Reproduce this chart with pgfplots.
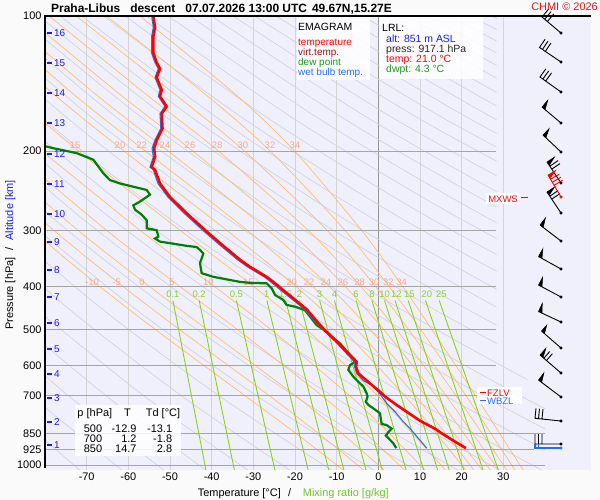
\documentclass[border=0pt]{standalone}
\usepackage{pgfplots}
\pgfplotsset{compat=1.18}
\usepackage{fontspec}
\setmainfont{Liberation Sans}
\definecolor{pagebg}{RGB}{250,250,250}
\definecolor{lav}{RGB}{240,240,252}
\definecolor{vgrid}{RGB}{212,212,212}
\definecolor{zgrid}{RGB}{150,150,150}
\definecolor{hgrid}{RGB}{165,165,165}
\definecolor{dryad}{RGB}{208,208,214}
\definecolor{moist}{RGB}{255,190,110}
\definecolor{moistlab}{RGB}{248,168,140}
\definecolor{mixr}{RGB}{140,210,20}
\definecolor{mixlab}{RGB}{140,205,50}
\definecolor{tred}{RGB}{255,0,0}
\definecolor{tdgreen}{RGB}{0,128,0}
\definecolor{wbblue}{RGB}{40,110,235}
\definecolor{altblue}{RGB}{30,30,230}
\definecolor{vtred}{RGB}{160,20,20}
\definecolor{legreen}{RGB}{30,150,30}
\definecolor{chmired}{RGB}{230,20,20}
\definecolor{xlgreen}{RGB}{110,200,40}
\pgfplotsset{
  dry/.style={dryad, line width=0.6bp, smooth},
  mst/.style={moist, line width=0.7bp, smooth},
  mix/.style={mixr, line width=0.9bp},
  hg/.style={hgrid, line width=1bp},
}
\tikzset{
  ml/.style={text=moistlab, font=\fontsize{9.5}{10}\selectfont, inner sep=0pt},
  xl/.style={text=mixlab, font=\fontsize{9.5}{10}\selectfont, inner sep=0pt},
}
\begin{document}
\begin{tikzpicture}
\useasboundingbox (0,0) rectangle (600bp,500bp);
\fill[pagebg] (0,0) rectangle (600bp,500bp);
\fill[lav] (45bp,30bp) rectangle (591bp,484bp);
\begin{axis}[
  at={(45bp,30bp)}, anchor=south west, scale only axis,
  width=500bp, height=454bp,
  xmin=-80, xmax=40, ymin=100, ymax=1026, ymode=log, y dir=reverse,
  axis line style={draw=none}, major tick length=0pt, minor tick length=0pt,
  xtick={-70,-60,-50,-40,-30,-20,-10,0,10,20,30},
  xticklabels={-70,-60,-50,-40,-30,-20,-10,0,10,20,30},
  ytick={100,200,300,400,500,600,700,850,925,1000},
  yticklabels={100,200,300,400,500,600,700,850,925,1000},
  xmajorgrids, major grid style={vgrid, line width=1bp},
  tick label style={font=\fontsize{11}{12}\selectfont},
  xticklabel style={yshift=1bp},
  no markers, clip mode=individual,
]
% vertical 0 line
\addplot[zgrid, line width=1bp] coordinates {(0,100)(0,1026)};
% dry adiabats
\addplot[dry] coordinates {(-71.68,1026)(-92.53,700)};
\addplot[dry] coordinates {(-61.60,1026)(-83.50,700)};
\addplot[dry] coordinates {(-51.53,1026)(-74.47,700)(-98.03,450)};
\addplot[dry] coordinates {(-41.46,1026)(-65.44,700)(-90.07,450)};
\addplot[dry] coordinates {(-31.38,1026)(-56.40,700)(-82.11,450)};
\addplot[dry] coordinates {(-21.31,1026)(-47.37,700)(-74.15,450)(-99.38,280)};
\addplot[dry] coordinates {(-11.24,1026)(-38.34,700)(-66.19,450)(-92.43,280)};
\addplot[dry] coordinates {(-1.16,1026)(-29.31,700)(-58.23,450)(-85.48,280)};
\addplot[dry] coordinates {(8.91,1026)(-20.28,700)(-50.27,450)(-78.53,280)(-104.38,170)};
\addplot[dry] coordinates {(18.98,1026)(-11.25,700)(-42.31,450)(-71.58,280)(-98.35,170)};
\addplot[dry] coordinates {(29.06,1026)(-2.22,700)(-34.35,450)(-64.62,280)(-92.32,170)};
\addplot[dry] coordinates {(39.13,1026)(6.81,700)(-26.39,450)(-57.67,280)(-86.30,170)};
\addplot[dry] coordinates {(49.21,1026)(15.85,700)(-18.43,450)(-50.72,280)(-80.27,170)(-107.41,100)};
\addplot[dry] coordinates {(59.28,1026)(24.88,700)(-10.47,450)(-43.77,280)(-74.24,170)(-102.23,100)};
\addplot[dry] coordinates {(69.35,1026)(33.91,700)(-2.51,450)(-36.82,280)(-68.21,170)(-97.05,100)};
\addplot[dry] coordinates {(79.43,1026)(42.94,700)(5.45,450)(-29.87,280)(-62.18,170)(-91.87,100)};
\addplot[dry] coordinates {(51.97,700)(13.41,450)(-22.92,280)(-56.15,170)(-86.69,100)};
\addplot[dry] coordinates {(61.00,700)(21.37,450)(-15.97,280)(-50.13,170)(-81.51,100)};
\addplot[dry] coordinates {(70.03,700)(29.33,450)(-9.02,280)(-44.10,170)(-76.33,100)};
\addplot[dry] coordinates {(79.06,700)(37.29,450)(-2.07,280)(-38.07,170)(-71.15,100)};
\addplot[dry] coordinates {(45.25,450)(4.89,280)(-32.04,170)(-65.97,100)};
\addplot[dry] coordinates {(53.21,450)(11.84,280)(-26.01,170)(-60.79,100)};
\addplot[dry] coordinates {(61.17,450)(18.79,280)(-19.99,170)(-55.61,100)};
\addplot[dry] coordinates {(69.13,450)(25.74,280)(-13.96,170)(-50.43,100)};
\addplot[dry] coordinates {(77.09,450)(32.69,280)(-7.93,170)(-45.25,100)};
\addplot[dry] coordinates {(85.05,450)(39.64,280)(-1.90,170)(-40.07,100)};
\addplot[dry] coordinates {(46.59,280)(4.12,170)(-34.89,100)};
\addplot[dry] coordinates {(53.54,280)(10.15,170)(-29.71,100)};
\addplot[dry] coordinates {(60.49,280)(16.18,170)(-24.53,100)};
\addplot[dry] coordinates {(67.44,280)(22.21,170)(-19.35,100)};
\addplot[dry] coordinates {(74.39,280)(28.23,170)(-14.17,100)};
\addplot[dry] coordinates {(81.35,280)(34.26,170)(-8.99,100)};
\addplot[dry] coordinates {(88.30,280)(40.29,170)(-3.81,100)};
\addplot[dry] coordinates {(46.31,170)(1.37,100)};
\addplot[dry] coordinates {(52.34,170)(6.55,100)};
\addplot[dry] coordinates {(58.37,170)(11.72,100)};
\addplot[dry] coordinates {(64.40,170)(16.90,100)};
\addplot[dry] coordinates {(70.42,170)(22.08,100)};
\addplot[dry] coordinates {(76.45,170)(27.26,100)};
\addplot[dry] coordinates {(82.48,170)(32.44,100)};
\addplot[dry] coordinates {(88.50,170)(37.62,100)};
% moist adiabats
\addplot[mst] coordinates {(34.77,1026)(29.1,850)(23.3,700)(12.9,500)(5.8,400)(-4.05,300)(-20.1,200)(-34.1,150)(-57.2,100)};
\addplot[mst] coordinates {(32.79,1026)(27.0,850)(21.0,700)(10.25,500)(2.55,400)(-8.05,300)(-25.9,200)(-41.3,150)(-65.24,100)};
\addplot[mst] coordinates {(30.81,1026)(24.9,850)(18.6,700)(7.3,500)(-0.7,400)(-12.3,300)(-32.1,200)(-48.6,150)(-72.5,100)};
\addplot[mst] coordinates {(28.85,1026)(22.6,850)(16.2,700)(4.4,500)(-4.25,400)(-16.85,300)(-38.35,200)(-55.5,150)(-79.0,100)};
\addplot[mst] coordinates {(26.87,1026)(20.5,850)(13.8,700)(1.35,500)(-8.0,400)(-21.6,300)(-44.5,200)(-61.8,150)(-84.8,100)};
\addplot[mst] coordinates {(24.92,1026)(18.2,850)(11.3,700)(-1.9,500)(-11.8,400)(-26.5,300)(-50.4,200)(-67.6,150)(-90.0,100)};
\addplot[mst] coordinates {(22.93,1026)(16.1,850)(8.8,700)(-5.1,500)(-15.8,400)(-31.5,300)(-55.9,200)(-72.9,150)(-94.7,100)};
\addplot[mst] coordinates {(20.96,1026)(13.9,850)(6.25,700)(-8.5,500)(-19.8,400)(-36.4,300)(-61.0,200)(-77.65,150)(-99.0,100)};
\addplot[mst] coordinates {(16.07,1026)(8.2,850)(-0.23,700)(-17.2,500)(-29.95,400)(-47.6,300)(-71.9,200)(-87.75,150)};
\addplot[mst] coordinates {(11.17,1026)(2.6,850)(-6.95,700)(-25.7,500)(-39.4,400)(-57.2,300)(-80.7,200)};
\addplot[mst] coordinates {(6.28,1026)(-3.1,850)(-13.6,700)(-33.75,500)(-47.7,400)(-65.25,300)(-87.9,200)};
\addplot[mst] coordinates {(1.39,1026)(-8.8,850)(-20.0,700)(-41.0,500)(-54.97,400)(-72.1,300)(-94.0,200)};
\addplot[mst] coordinates {(-3.51,1026)(-14.4,850)(-26.25,700)(-47.6,500)(-61.3,400)(-77.9,300)(-99.3,200)};
\addplot[mst] coordinates {(-8.45,1026)(-19.8,850)(-32.1,700)(-53.4,500)(-66.9,400)(-83.2,300)};
% mixing ratio lines
\addplot[mix] coordinates {(-49.3,430)(-41.37,1026)};
\addplot[mix] coordinates {(-43.0,430)(-34.54,1026)};
\addplot[mix] coordinates {(-34.06,430)(-24.82,1026)};
\addplot[mix] coordinates {(-26.75,430)(-16.84,1026)};
\addplot[mix] coordinates {(-22.24,430)(-11.89,1026)};
\addplot[mix] coordinates {(-18.93,430)(-8.27,1026)};
\addplot[mix] coordinates {(-14.09,430)(-2.95,1026)};
\addplot[mix] coordinates {(-10.54,430)(0.95,1026)};
\addplot[mix] coordinates {(-5.35,430)(6.67,1026)};
\addplot[mix] coordinates {(-1.54,430)(10.88,1026)};
\addplot[mix] coordinates {(1.49,430)(14.23,1026)};
\addplot[mix] coordinates {(4.01,430)(17.02,1026)};
\addplot[mix] coordinates {(7.16,430)(20.51,1026)};
\addplot[mix] coordinates {(11.32,430)(25.13,1026)};
\addplot[mix] coordinates {(14.61,430)(28.79,1026)};
% horizontal pressure lines
\addplot[hg] coordinates {(-80,200)(28.2,200)};
\addplot[hg] coordinates {(-80,300)(28.2,300)};
\addplot[hg] coordinates {(-80,400)(28.2,400)};
\addplot[hg] coordinates {(-80,500)(28.2,500)};
\addplot[hg] coordinates {(-80,600)(28.2,600)};
\addplot[hg] coordinates {(-80,700)(28.2,700)};
\addplot[hg] coordinates {(-80,850)(40,850)};
\addplot[hg] coordinates {(-80,925)(37.4,925)};
\addplot[hg] coordinates {(-80,1000)(40,1000)};
% moist adiabat labels
\node[ml] at (axis cs:-68.7,391) {-10};
\node[ml] at (axis cs:-62.8,391) {-5};
\node[ml] at (axis cs:-56.7,391) {0};
\node[ml] at (axis cs:-49.6,391) {5};
\node[ml] at (axis cs:-40.8,391) {10};
\node[ml] at (axis cs:-31.2,391) {15};
\node[ml] at (axis cs:-20.8,391) {20};
\node[ml] at (axis cs:-16.6,391) {22};
\node[ml] at (axis cs:-12.6,391) {24};
\node[ml] at (axis cs:-8.5,391) {26};
\node[ml] at (axis cs:-4.5,391) {28};
\node[ml] at (axis cs:-1.0,391) {30};
\node[ml] at (axis cs:2.4,391) {32};
\node[ml] at (axis cs:5.6,391) {34};
\node[ml] at (axis cs:-72.8,194) {15};
\node[ml] at (axis cs:-62.0,194) {20};
\node[ml] at (axis cs:-56.8,194) {22};
\node[ml] at (axis cs:-51.2,194) {24};
\node[ml] at (axis cs:-45.2,194) {26};
\node[ml] at (axis cs:-38.7,194) {28};
\node[ml] at (axis cs:-32.5,194) {30};
\node[ml] at (axis cs:-26.0,194) {32};
\node[ml] at (axis cs:-20.0,194) {34};
% mixing ratio labels
\node[xl] at (axis cs:-49.3,416) {0.1};
\node[xl] at (axis cs:-43.0,416) {0.2};
\node[xl] at (axis cs:-34.06,416) {0.5};
\node[xl] at (axis cs:-26.75,416) {1};
\node[xl] at (axis cs:-22.24,416) {1.5};
\node[xl] at (axis cs:-18.93,416) {2};
\node[xl] at (axis cs:-14.09,416) {3};
\node[xl] at (axis cs:-10.54,416) {4};
\node[xl] at (axis cs:-5.35,416) {6};
\node[xl] at (axis cs:-1.54,416) {8};
\node[xl] at (axis cs:1.49,416) {10};
\node[xl] at (axis cs:4.31,416) {12};
\node[xl] at (axis cs:7.46,416) {15};
\node[xl] at (axis cs:11.62,416) {20};
\node[xl] at (axis cs:15.11,416) {25};
% dew point
\addplot[tdgreen, line width=2.2bp] coordinates {(4.3,917)(3.6,895)(2.6,875)(1.8,860)(2.4,845)(3.2,830)(2.0,815)(0.8,810)(0.6,790)(0.4,767)(-1.2,748)(-2.4,735)(-3.0,723)(-2.6,705)(-2.8,692)(-3.6,669)(-6.0,636)(-7.2,614)(-6.8,599)(-5.6,590)(-6.8,569)(-9.2,536)(-10.8,522)(-13.1,500)(-14.8,488)(-17.6,452)(-20.0,444)(-22.0,440)(-22.8,429)(-24.8,418)(-25.6,404)(-26.8,394)(-30.8,393)(-33.2,391)(-39.6,381)(-42.4,374)(-42.8,355)(-42.0,338)(-42.8,332)(-43.6,327)(-46.0,325)(-52.4,318)(-53.6,313)(-52.8,310)(-53.2,300)(-55.6,297)(-55.6,285)(-56.8,277)(-58.4,270)(-58.8,264)(-57.2,259)(-54.8,250)(-55.6,244)(-58.8,240)(-62.0,236)(-64.4,232)(-66.0,224)(-68.4,209)(-72.4,202)(-78.0,197)(-82.0,193)};
% wet bulb
\addplot[wbblue, line width=1.1bp] coordinates {(11.6,917)(9.6,872)(7.6,829)(6.0,801)(4.0,761)(2.0,729)(0.25,692)(-1.6,664)(-3.6,649)(-5.2,625)(-5.7,604)(-5.6,590)(-7.6,565)(-10.4,530)(-13.2,500)(-14.7,484)(-17.7,450)(-23.4,408)(-25.8,391)(-27.4,381)(-31.4,362)(-33.8,349)(-37.8,325)(-41.8,302)(-46.6,275)(-50.5,253)(-52.9,236)(-54.0,220)(-54.8,217)(-54.0,206)(-54.3,197)(-53.6,189)(-52.2,178)(-52.4,165)(-51.2,159)(-52.8,151)(-52.4,146)(-53.6,137)(-52.8,131)(-53.6,127)(-54.4,121)(-54.4,111)(-54.0,106)(-54.4,100)};
% temperature
\addplot[tred, line width=2.6bp] coordinates {(21.0,917)(17.8,880)(15.2,850)(13.8,832)(10.0,797)(6.8,761)(4.4,735)(1.6,704)(0.4,687)(-2.0,658)(-4.8,625)(-5.35,604)(-5.2,589)(-7.2,564)(-10.0,530)(-12.9,500)(-14.3,484)(-17.2,450)(-22.8,408)(-25.2,391)(-26.8,381)(-30.8,362)(-33.2,349)(-37.2,325)(-41.2,302)(-46.0,275)(-50.0,253)(-52.4,236)(-53.6,220)(-54.4,217)(-53.6,206)(-53.8,197)(-53.2,189)(-51.8,178)(-52.0,165)(-50.8,159)(-52.4,151)(-52.0,146)(-53.2,137)(-52.4,131)(-53.2,127)(-54.0,121)(-54.0,111)(-53.6,106)(-54.0,100)};
\end{axis}

% ---------------- overlay in pixel coordinates ----------------
\begin{axis}[
  at={(0bp,0bp)}, anchor=south west, scale only axis,
  width=600bp, height=500bp,
  xmin=0, xmax=600, ymin=0, ymax=500, y dir=reverse,
  hide axis, clip=false, no markers,
]
% clear the upper part of the wind column (background lines stop there)
\fill[lav] (axis cs:496.5,16) -- (axis cs:546,16) -- (axis cs:546,400) -- (axis cs:496.5,345) -- cycle;
\draw[vgrid, line width=1bp] (axis cs:503.3,16) -- (axis cs:503.3,400);
% frame
\draw[black, line width=1.3bp] (axis cs:45,468) -- (axis cs:45,16) -- (axis cs:591,16);
% boxes
\fill[white, fill opacity=0.85] (axis cs:297,17) rectangle (axis cs:370,80);
\fill[white, fill opacity=0.85] (axis cs:379,17) rectangle (axis cs:483,79);
\fill[white, fill opacity=0.85] (axis cs:75,405) rectangle (axis cs:181,456);
\fill[white, fill opacity=0.85] (axis cs:477,387) rectangle (axis cs:522,404);
\fill[white] (axis cs:486,193) rectangle (axis cs:519,203.5);
% title
\node[anchor=base west, inner sep=0, font=\bfseries\fontsize{12}{14}\selectfont] at (axis cs:51,12) {Praha-Libus\hspace{10bp}descent\hspace{10bp}07.07.2026 13:00 UTC\hspace{5bp}49.67N,15.27E};
\node[anchor=base east, inner sep=0, text=chmired, font=\fontsize{11}{12}\selectfont] at (axis cs:598,10) {CHMI © 2026};
% legend box
\node[anchor=base west, inner sep=0, font=\fontsize{10.5}{12}\selectfont] at (axis cs:298,30.5) {EMAGRAM};
\node[anchor=base west, inner sep=0, text=tred, font=\fontsize{10}{12}\selectfont] at (axis cs:298,45) {temperature};
\node[anchor=base west, inner sep=0, text=vtred, font=\fontsize{10}{12}\selectfont] at (axis cs:298,55) {virt.temp.};
\node[anchor=base west, inner sep=0, text=legreen, font=\fontsize{10}{12}\selectfont] at (axis cs:298,65) {dew point};
\node[anchor=base west, inner sep=0, text=wbblue, font=\fontsize{10}{12}\selectfont] at (axis cs:298,75) {wet bulb temp.};
% LRL box
\node[anchor=base west, inner sep=0, font=\fontsize{10.5}{12}\selectfont] at (axis cs:382,31) {LRL:};
\node[anchor=base west, inner sep=0, text=altblue, font=\fontsize{10.5}{12}\selectfont] at (axis cs:386,42) {alt: 851 m ASL};
\node[anchor=base west, inner sep=0, text=black!85, font=\fontsize{10.5}{12}\selectfont] at (axis cs:386,52) {press: 917.1 hPa};
\node[anchor=base west, inner sep=0, text=tred, font=\fontsize{10.5}{12}\selectfont] at (axis cs:386,62) {temp: 21.0 °C};
\node[anchor=base west, inner sep=0, text=legreen, font=\fontsize{10.5}{12}\selectfont] at (axis cs:386,72) {dwpt: 4.3 °C};
% table
\node[anchor=base west, inner sep=0, font=\fontsize{11}{12}\selectfont] at (axis cs:77.3,416) {p [hPa]};
\node[anchor=base west, inner sep=0, font=\fontsize{11}{12}\selectfont] at (axis cs:124,416) {T};
\node[anchor=base west, inner sep=0, font=\fontsize{11}{12}\selectfont] at (axis cs:145.7,416) {Td [°C]};
\node[anchor=base east, inner sep=0, font=\fontsize{11}{12}\selectfont] at (axis cs:102.3,432) {500};
\node[anchor=base east, inner sep=0, font=\fontsize{11}{12}\selectfont] at (axis cs:136.7,432) {-12.9};
\node[anchor=base east, inner sep=0, font=\fontsize{11}{12}\selectfont] at (axis cs:172.3,432) {-13.1};
\node[anchor=base east, inner sep=0, font=\fontsize{11}{12}\selectfont] at (axis cs:102.3,442) {700};
\node[anchor=base east, inner sep=0, font=\fontsize{11}{12}\selectfont] at (axis cs:136.7,442) {1.2};
\node[anchor=base east, inner sep=0, font=\fontsize{11}{12}\selectfont] at (axis cs:172.3,442) {-1.8};
\node[anchor=base east, inner sep=0, font=\fontsize{11}{12}\selectfont] at (axis cs:102.3,452.5) {850};
\node[anchor=base east, inner sep=0, font=\fontsize{11}{12}\selectfont] at (axis cs:136.7,452.5) {14.7};
\node[anchor=base east, inner sep=0, font=\fontsize{11}{12}\selectfont] at (axis cs:172.3,452.5) {2.8};
% altitude marks
\foreach \yy/\kk in {445/1,422/2,398/3,374/4,349/5,323/6,297/7,270/8,242/9,214/10,184/11,154/12,123/13,93/14,63/15,33/16}{
  \edef\tmp{\noexpand\draw[altblue, line width=1.6bp] (axis cs:46.5,\yy) -- (axis cs:51.5,\yy);
  \noexpand\node[anchor=west, inner sep=0, text=altblue, font=\noexpand\fontsize{10}{11}\noexpand\selectfont] at (axis cs:54,\yy) {\kk};}
  \tmp
}
% axis titles
\node[rotate=90, anchor=base, inner sep=0, font=\fontsize{11}{12}\selectfont] at (axis cs:13,255) {Pressure [hPa]\hspace{7bp}/\hspace{7bp}\textcolor{altblue}{Altitude [km]}};
\node[anchor=base west, inner sep=0, font=\fontsize{11}{12}\selectfont] at (axis cs:197.7,496.5) {Temperature [°C]};
\node[anchor=base west, inner sep=0, font=\fontsize{11}{12}\selectfont] at (axis cs:288,496.5) {/};
\node[anchor=base west, inner sep=0, text=xlgreen, font=\fontsize{11}{12}\selectfont] at (axis cs:302.7,496.5) {Mixing ratio [g/kg]};
% FZLV / WBZL / MXWS
\addplot[tred, line width=1.3bp] coordinates {(480,392.5)(486,392.5)};
\addplot[wbblue, line width=1.1bp] coordinates {(480,400.5)(486,400.5)};
\node[anchor=base west, inner sep=0, text=tred, font=\fontsize{9.5}{10}\selectfont] at (axis cs:487,396) {FZLV};
\node[anchor=base west, inner sep=0, text=wbblue, font=\fontsize{9.5}{10}\selectfont] at (axis cs:487,404) {WBZL};
\addplot[tred, line width=1.3bp] coordinates {(520.5,197.7)(527.5,197.7)};
\node[anchor=base east, inner sep=0, text=tred, font=\fontsize{9.5}{10}\selectfont] at (axis cs:518,202) {MXWS};
% wind barbs: staffs and barbs
\addplot[black, line width=0.9bp, unbounded coords=jump] coordinates {
 (561,33)(542,17)(548.4,9.35) (nan,nan) (544.7,19.25)(551.1,11.6) (nan,nan) (547.4,21.5)(553.8,13.85) (nan,nan)
 (561,62)(539.5,47.5)(545.1,39.2) (nan,nan) (542.4,49.46)(548.0,41.2) (nan,nan) (545.3,51.4)(550.9,43.1) (nan,nan)
 (561,92)(540,77)(545.8,68.9) (nan,nan) (542.85,79.03)(548.7,70.9) (nan,nan) (545.7,81.07)(551.5,72.9) (nan,nan)
 (561,123)(542,107) (nan,nan)
 (561,152)(543,135) (nan,nan)
 (561,183)(547,162) (nan,nan) (549.8,166.2)(558.1,160.6) (nan,nan) (551.7,169.1)(560.0,163.6) (nan,nan)
 (561,213)(547,192) (nan,nan) (549.8,196.2)(558.1,190.6) (nan,nan) (551.7,199.1)(560.0,193.6) (nan,nan)
 (561,241)(540,225) (nan,nan)
 (561,269)(538.5,256.5) (nan,nan)
 (561,297)(538.5,285) (nan,nan)
 (561,322)(538.5,311.5) (nan,nan)
 (561,348)(541.5,331) (nan,nan)
 (561,373)(540,355) (nan,nan) (543.8,358.3)(549.7,351.5) (nan,nan) (546.5,360.5)(552.4,353.7) (nan,nan)
 (561,397)(538.5,380) (nan,nan)
 (561,421)(535,418.3)(536.0,408.4) (nan,nan) (538.5,418.7)(539.5,408.7) (nan,nan) (542.0,419.0)(543.0,409.1) (nan,nan)
 (561,444)(535,444)(535,434) (nan,nan) (538.5,444)(538.5,434) (nan,nan) (542,444)(542,434)
};
\addplot[fill=black, draw=black, line width=0.5bp] coordinates {(542,107)(547.8,100.1)(545.06,109.58)};
\addplot[fill=black, draw=black, line width=0.5bp] coordinates {(543,135)(549.2,128.5)(545.9,137.7)};
\addplot[fill=black, draw=black, line width=0.5bp] coordinates {(547,162)(554.5,157.0)(549.2,165.3)};
\addplot[fill=black, draw=black, line width=0.5bp] coordinates {(547,192)(554.5,187.0)(549.2,195.3)};
\addplot[fill=black, draw=black, line width=0.5bp] coordinates {(540,225)(545.5,217.8)(543.2,227.4)};
\addplot[fill=black, draw=black, line width=0.5bp] coordinates {(538.5,256.5)(542.9,248.6)(542.0,258.4)};
\addplot[fill=black, draw=black, line width=0.5bp] coordinates {(538.5,285)(542.7,277.1)(542.0,286.9)};
\addplot[fill=black, draw=black, line width=0.5bp] coordinates {(538.5,311.5)(542.3,303.3)(542.1,313.2)};
\addplot[fill=black, draw=black, line width=0.5bp] coordinates {(541.5,331)(546.8,325.0)(544.5,333.6)};
\addplot[fill=black, draw=black, line width=0.5bp] coordinates {(540,355)(545.9,348.2)(543.0,357.6)};
\addplot[fill=black, draw=black, line width=0.5bp] coordinates {(538.5,380)(543.9,372.8)(541.7,382.4)};
% red barb (max wind)
\addplot[tred, line width=0.9bp, unbounded coords=jump] coordinates {
 (561,197)(548,175) (nan,nan) (550.5,179.3)(559.2,174.2) (nan,nan) (552.3,182.3)(560.9,177.2) (nan,nan) (554.1,185.3)(562.7,180.2)};
\addplot[fill=tred, draw=tred, line width=0.5bp] coordinates {(548,175)(555.7,170.4)(550.0,178.4)};
% blue surface barb
\addplot[wbblue, line width=1.1bp, unbounded coords=jump] coordinates {
 (561,448)(535,448)(535,444) (nan,nan) (538.5,448)(538.5,444)};
% dots
\addplot[only marks, mark=square*, mark size=1.4bp, black] coordinates {(561,33)(561,62)(561,92)(561,123)(561,152)(561,183)(561,213)(561,241)(561,269)(561,297)(561,322)(561,348)(561,373)(561,397)(561,421)(561,444)};
\addplot[only marks, mark=square*, mark size=1.4bp, tred] coordinates {(561,197)};
\addplot[only marks, mark=square*, mark size=1.4bp, wbblue] coordinates {(561,448)};
\end{axis}
\end{tikzpicture}
\end{document}
